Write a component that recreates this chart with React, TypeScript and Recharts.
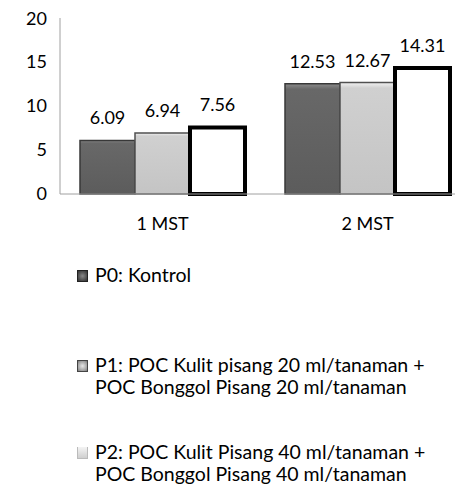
import { BarChart, Bar, XAxis, YAxis, LabelList, Legend } from "recharts";

const categories = ["1 MST", "2 MST"];
const p0Values = [6.09, 12.53];
const p1Values = [6.94, 12.67];
const p2Values = [7.56, 14.31];
const yTicks = [0, 5, 10, 15, 20];

const legendItems = [
  { key: "p0", lines: ["P0: Kontrol"] },
  {
    key: "p1",
    lines: ["P1: POC Kulit pisang 20 ml/tanaman +", "POC Bonggol Pisang 20 ml/tanaman"],
  },
  {
    key: "p2",
    lines: ["P2: POC Kulit Pisang 40 ml/tanaman +", "POC Bonggol Pisang 40 ml/tanaman"],
  },
];

const data = categories.map((name, i) => ({
  name,
  p0: p0Values[i],
  p1: p1Values[i],
  p2: p2Values[i],
}));

const FONT = "Lato, 'Open Sans', sans-serif";

const legendIcon: Record<string, { bg: string; border: string }> = {
  p0: { bg: "radial-gradient(circle, #8a8a8a 0%, #4a4a4a 70%, #333 100%)", border: "1px solid #222" },
  p1: { bg: "radial-gradient(circle, #e8e8e8 0%, #a0a0a0 70%, #777 100%)", border: "1px solid #444" },
  p2: { bg: "linear-gradient(to bottom, #f4f4f4, #cfcfcf)", border: "1px solid #bbb" },
};

const itemGap = [0, 68, 43];

function LegendBox() {
  return (
    <div style={{ fontFamily: FONT, fontSize: 19.5, lineHeight: "22px", color: "#000" }}>
      {legendItems.map((item, idx) => (
        <div key={item.key} style={{ display: "flex", marginTop: itemGap[idx] }}>
          <div
            style={{
              width: 11,
              height: 12,
              marginTop: 6,
              marginRight: 7,
              boxSizing: "border-box",
              background: legendIcon[item.key].bg,
              border: legendIcon[item.key].border,
              borderTop: item.key === "p2" ? "none" : legendIcon[item.key].border,
              flexShrink: 0,
            }}
          />
          <div>
            {item.lines.map((line) => (
              <div key={line} style={{ whiteSpace: "nowrap" }}>
                {line}
              </div>
            ))}
          </div>
        </div>
      ))}
    </div>
  );
}

export default function App() {
  return (
    <div style={{ width: 455, overflow: "hidden" }}>
      <BarChart
        width={462}
        height={481}
        data={data}
        margin={{ top: 10, right: 0, bottom: 265, left: 0 }}
        barCategoryGap={20}
        barGap={0}
      >
        <defs>
          <linearGradient id="gP0" x1="0" y1="0" x2="0" y2="1">
            <stop offset="0%" stopColor="#8c8c8c" />
            <stop offset="5%" stopColor="#686868" />
            <stop offset="100%" stopColor="#5c5c5c" />
          </linearGradient>
          <linearGradient id="gP1" x1="0" y1="0" x2="0" y2="1">
            <stop offset="0%" stopColor="#f2f2f2" />
            <stop offset="5%" stopColor="#d0d0d0" />
            <stop offset="100%" stopColor="#c4c4c4" />
          </linearGradient>
        </defs>
        <XAxis
          dataKey="name"
          height={30}
          tickLine={false}
          tickSize={0}
          tickMargin={23}
          axisLine={{ stroke: "#a0a0a0" }}
          tick={{ fill: "#000", fontSize: 18, fontFamily: FONT }}
        />
        <YAxis
          width={52}
          domain={[0, 20]}
          ticks={yTicks}
          tickLine={false}
          tickSize={0}
          tickMargin={13}
          axisLine={{ stroke: "#a0a0a0" }}
          tick={{ fill: "#000", fontSize: 18, fontFamily: FONT }}
        />
        <Legend
          layout="vertical"
          align="center"
          verticalAlign="middle"
          wrapperStyle={{ top: 256, left: 69, width: 390 }}
          content={() => <LegendBox />}
        />
        <Bar dataKey="p0" fill="url(#gP0)" stroke="#383838" strokeWidth={1.5} isAnimationActive={false}>
          <LabelList dataKey="p0" position="top" offset={16} fill="#000" fontSize={18} fontFamily={FONT} />
        </Bar>
        <Bar dataKey="p1" fill="url(#gP1)" stroke="#505050" strokeWidth={1.5} isAnimationActive={false}>
          <LabelList dataKey="p1" position="top" offset={16} fill="#000" fontSize={18} fontFamily={FONT} />
        </Bar>
        <Bar dataKey="p2" fill="#fff" stroke="#000" strokeWidth={4} isAnimationActive={false}>
          <LabelList dataKey="p2" position="top" offset={16} fill="#000" fontSize={18} fontFamily={FONT} />
        </Bar>
      </BarChart>
    </div>
  );
}
